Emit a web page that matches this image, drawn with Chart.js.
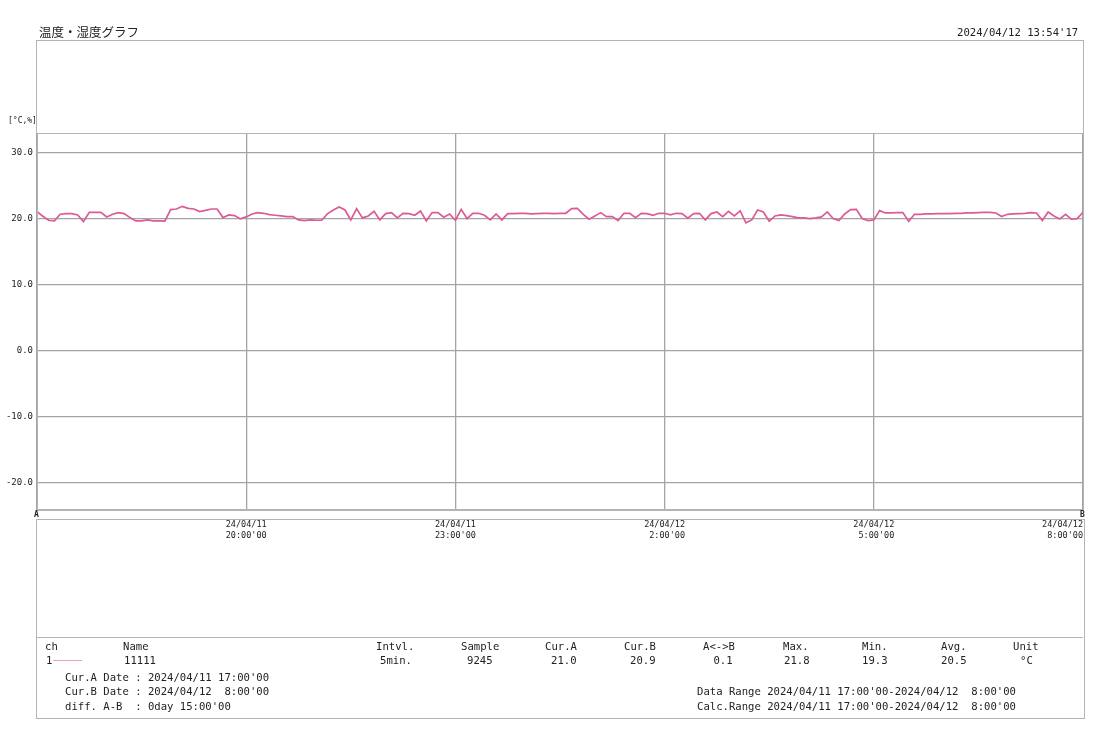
<!DOCTYPE html>
<html>
<head>
<meta charset="utf-8">
<script src="https://cdn.jsdelivr.net/npm/chart.js@4/dist/chart.umd.min.js"></script>
<style>
  body {margin: 0; background: #fff;}
  #page {position: relative; width: 1100px; height: 738px; overflow: hidden;}
  #chart {position: absolute; left: 0; top: 0;}
  .t {position: absolute; font-family: 'DejaVu Sans Mono', monospace;
    font-size: 10.6px; line-height: 12px; color: #222; white-space: pre;}
  .box {position: absolute; border: 1px solid #b4b4b4;}
  .hl {position: absolute; height: 0; border-top: 1px solid #b4b4b4;}
</style>
</head>
<body>
<div id="page">
  <div class="box" style="left:36px;top:40px;width:1046px;height:469px;"></div>
  <div class="box" style="left:36px;top:519px;width:1047px;height:198px;"></div>
  <div class="hl" style="left:36px;top:637px;width:1047px;"></div>
  <canvas id="chart" width="1100" height="738"></canvas>

  <div class="t" style="left:39px;top:24px;font-family:'Noto Sans CJK JP';font-size:12.5px;line-height:16px;">温度・湿度グラフ</div>
  <div class="t" style="left:957px;top:26px;">2024/04/12 13:54'17</div>
  <div class="t" style="left:8px;top:115px;font-size:8px;">[°C,%]</div>
  <div class="t" style="left:34px;top:509px;font-size:8px;font-weight:bold;">A</div>
  <div class="t" style="left:1080px;top:509px;font-size:8px;font-weight:bold;">B</div>

  <div class="t" style="left:45px;top:640px;">ch</div>
  <div class="t" style="left:123px;top:640px;">Name</div>
  <div class="t" style="left:376px;top:640px;">Intvl.</div>
  <div class="t" style="left:461px;top:640px;">Sample</div>
  <div class="t" style="left:545px;top:640px;">Cur.A</div>
  <div class="t" style="left:624px;top:640px;">Cur.B</div>
  <div class="t" style="left:703px;top:640px;">A&lt;-&gt;B</div>
  <div class="t" style="left:783px;top:640px;">Max.</div>
  <div class="t" style="left:862px;top:640px;">Min.</div>
  <div class="t" style="left:941px;top:640px;">Avg.</div>
  <div class="t" style="left:1013px;top:640px;">Unit</div>

  <div class="t" style="left:46px;top:654px;">1</div>
  <div class="hl" style="left:53px;top:660px;width:29px;border-top-color:#e6a0c0;"></div>
  <div class="t" style="left:124px;top:654px;">11111</div>
  <div class="t" style="left:380px;top:654px;">5min.</div>
  <div class="t" style="left:467px;top:654px;">9245</div>
  <div class="t" style="left:551px;top:654px;">21.0</div>
  <div class="t" style="left:630px;top:654px;">20.9</div>
  <div class="t" style="left:707px;top:654px;"> 0.1</div>
  <div class="t" style="left:784px;top:654px;">21.8</div>
  <div class="t" style="left:862px;top:654px;">19.3</div>
  <div class="t" style="left:941px;top:654px;">20.5</div>
  <div class="t" style="left:1020px;top:654px;">°C</div>

  <div class="t" style="left:65px;top:671px;">Cur.A Date : 2024/04/11 17:00'00</div>
  <div class="t" style="left:65px;top:685px;">Cur.B Date : 2024/04/12  8:00'00</div>
  <div class="t" style="left:65px;top:700px;">diff. A-B  : 0day 15:00'00</div>
  <div class="t" style="left:697px;top:685px;">Data Range 2024/04/11 17:00'00-2024/04/12  8:00'00</div>
  <div class="t" style="left:697px;top:700px;">Calc.Range 2024/04/11 17:00'00-2024/04/12  8:00'00</div>
</div>
<script>
// 5 min samples, 2024/04/11 17:00 -> 2024/04/12 8:00
const intervalMin = 5;
const temps = [
  21.0, 20.3, 19.7, 19.6, 20.6, 20.7, 20.7, 20.5, 19.5, 20.9,
  20.9, 20.9, 20.2, 20.6, 20.85, 20.7, 20.1, 19.6, 19.6, 19.75,
  19.6, 19.6, 19.55, 21.3, 21.4, 21.8, 21.5, 21.4, 21.0, 21.2,
  21.4, 21.4, 20.1, 20.5, 20.4, 19.9, 20.2,
  20.65, 20.85, 20.75, 20.55, 20.45, 20.35, 20.25, 20.25, 19.75, 19.65,
  19.75, 19.7, 19.7, 20.7, 21.25, 21.7, 21.25, 19.75, 21.45, 20.05,
  20.35, 21.05, 19.75, 20.7, 20.85, 20.05, 20.75, 20.7, 20.45, 21.1,
  19.6, 20.85, 20.85, 20.15, 20.65, 19.7,
  21.35, 19.95, 20.75, 20.75, 20.45, 19.75, 20.65, 19.75, 20.7, 20.7,
  20.75, 20.75, 20.65, 20.7, 20.75, 20.75, 20.7, 20.75, 20.75, 21.45,
  21.5, 20.6, 19.85, 20.35, 20.85, 20.25, 20.25, 19.65, 20.75, 20.75,
  20.1, 20.75, 20.7, 20.45, 20.75, 20.75,
  20.5, 20.75, 20.7, 20.0, 20.7, 20.75, 19.75, 20.7, 20.95, 20.25,
  21.05, 20.35, 21.1, 19.3, 19.75, 21.25, 20.95, 19.55, 20.35, 20.5,
  20.4, 20.25, 20.05, 20.05, 19.95, 20.05, 20.2, 20.95, 19.95, 19.65,
  20.65, 21.3, 21.35, 19.95, 19.65, 19.75,
  21.15, 20.8, 20.8, 20.85, 20.85, 19.55, 20.6, 20.6, 20.65, 20.65,
  20.7, 20.7, 20.7, 20.75, 20.75, 20.8, 20.8, 20.85, 20.9, 20.9,
  20.8, 20.25, 20.6, 20.65, 20.7, 20.75, 20.85, 20.8, 19.65, 20.95,
  20.35, 19.9, 20.6, 19.85, 19.95, 20.9,
];

const xTickMinutes = [0, 180, 360, 540, 720, 900];
const xTickLabels = [
  ['', ''],
  ['24/04/11', '20:00\'00'],
  ['24/04/11', '23:00\'00'],
  ['24/04/12', ' 2:00\'00'],
  ['24/04/12', ' 5:00\'00'],
  ['24/04/12', ' 8:00\'00'],
];
const yTicks = [-20, -10, 0, 10, 20, 30];

const gridColor = '#a4a4a4';

const frame = {
  id: 'frame',
  afterDraw: (chart) => {
    const {ctx, chartArea: a} = chart;
    ctx.save();
    ctx.strokeStyle = '#b4b4b4';
    ctx.lineWidth = 1;
    ctx.strokeRect(a.left + 0.5, a.top + 0.5, a.right - a.left, a.bottom - a.top);
    ctx.restore();
  },
};

new Chart(document.getElementById('chart'), {
  type: 'line',
  data: {
    datasets: [{
      label: '11111',
      data: temps.map((t, i) => ({x: i * intervalMin, y: t})),
      borderColor: '#dc5a96',
      borderWidth: 1.7,
      pointRadius: 0,
      tension: 0,
      fill: false,
    }],
  },
  options: {
    responsive: false,
    animation: false,
    devicePixelRatio: 1,
    layout: {
      padding: {top: 133, right: 17, bottom: 189, left: 0},
    },
    plugins: {
      legend: {display: false},
      tooltip: {enabled: false},
    },
    scales: {
      x: {
        type: 'linear',
        min: 0,
        max: 900,
        afterBuildTicks: (scale) => {
          scale.ticks = xTickMinutes.map((v) => ({value: v}));
        },
        afterFit: (scale) => {
          scale.height = 40;
        },
        grid: {color: gridColor, lineWidth: 1.3, drawTicks: false},
        border: {display: false},
        ticks: {
          align: 'inner',
          maxRotation: 0,
          autoSkip: false,
          padding: 11,
          color: '#222',
          font: {family: 'DejaVu Sans Mono', size: 8.5, lineHeight: 1.2},
          callback: (value, index) => xTickLabels[index],
        },
      },
      y: {
        min: -24,
        max: 32.9,
        afterBuildTicks: (scale) => {
          scale.ticks = yTicks.map((v) => ({value: v}));
        },
        afterFit: (scale) => {
          scale.width = 37;
        },
        grid: {color: gridColor, lineWidth: 1.3, drawTicks: false},
        border: {display: false},
        ticks: {
          padding: 4,
          color: '#222',
          font: {family: 'DejaVu Sans Mono', size: 9},
          callback: (value) => value.toFixed(1),
        },
      },
    },
  },
  plugins: [frame],
});
</script>
</body>
</html>
